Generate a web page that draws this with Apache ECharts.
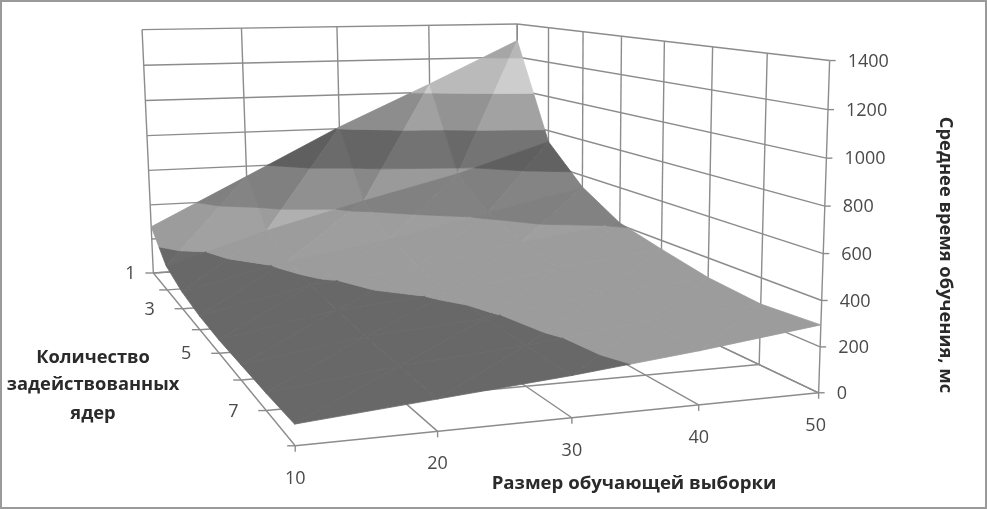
<!DOCTYPE html>
<html>
<head>
<meta charset="utf-8">
<title>Среднее время обучения</title>
<script src="https://cdn.jsdelivr.net/npm/echarts@6/dist/echarts.min.js"></script>
<style>
html,body{margin:0;padding:0;background:#fff}
#main{width:987px;height:510px}
</style>
</head>
<body>
<div id="main"></div>
<script>
// values
var sizes = [10, 20, 30, 40, 50];
var cores = [1, 2, 3, 4, 5, 6, 7, 8];
var time10 = [272, 135, 90, 70, 65, 70, 75, 85];
var time20 = [540, 300, 220, 185, 165, 150, 140, 130];
var time30 = [810, 440, 305, 245, 210, 190, 180, 175];
var time40 = [1050, 570, 420, 340, 295, 265, 245, 230];
var time50 = [1300, 735, 535, 410, 355, 305, 280, 295];
var timeTicks = [0, 200, 400, 600, 800, 1000, 1200, 1400];
var coreLabels = [1, 3, 5, 7];
var bandGreys = [104, 156, 128, 95, 133, 168, 150];
var times = [time10, time20, time30, time40, time50];

// Excel's 3D box: known axis points [sizeIdx, coreIdx, z/200, screenX, screenY], fitted to a camera
var camRefs = [
  [0,0,0,153.3,272],[0,7,0,295.7,446],[4,7,0,818.3,392.7],[0,0,7,142.3,29.3],[4,0,7,516.7,24],[4,7,7,830,60],
  [1,7,0,436.7,431.7],[2,7,0,571.7,418.3],[3,7,0,698.3,405],[0,3,0,201,330],[0,5,0,241.7,380],
  [1,0,7,241.7,28.3],[2,0,7,336.7,27],[3,0,7,429,25.3],[4,1,7,550,28.3],[4,3,7,620.7,36],[4,5,7,712.3,47.3],[4,6,7,766.7,53.3],
  [4,7,6,828.3,109.3],[4,7,5,826.6,157.3],[4,7,4,824.9,206],[4,7,3,823.2,253.3],[4,7,2,821.5,300.7],[4,7,1,819.9,347.3],
  [0,0,4,146.4,135.7],[0,0,2,149.4,205],[4,6,0,760,364.3]
];

function fitCamera(refs){
  var n = 11, A = [], i, j, k;
  for(i=0;i<n;i++){ A.push(new Array(n+1).fill(0)); }
  function add(row, rhs){
    for(var a=0;a<n;a++){
      for(var b=0;b<n;b++){ A[a][b] += row[a]*row[b]; }
      A[a][n] += row[a]*rhs;
    }
  }
  refs.forEach(function(r){
    add([r[0],r[1],r[2],1,0,0,0,0,-r[3]*r[0],-r[3]*r[1],-r[3]*r[2]], r[3]);
    add([0,0,0,0,r[0],r[1],r[2],1,-r[4]*r[0],-r[4]*r[1],-r[4]*r[2]], r[4]);
  });
  for(i=0;i<n;i++){
    var p = i;
    for(j=i+1;j<n;j++){ if(Math.abs(A[j][i])>Math.abs(A[p][i])) p = j; }
    var t = A[i]; A[i] = A[p]; A[p] = t;
    for(j=0;j<n;j++){
      if(j===i) continue;
      var f = A[j][i]/A[i][i];
      for(k=i;k<=n;k++){ A[j][k] -= f*A[i][k]; }
    }
  }
  var out = [];
  for(i=0;i<n;i++){ out.push(A[i][n]/A[i][i]); }
  return out;
}
var cam = fitCamera(camRefs);

// size index, core index, time in ms -> screen px
function project(u, v, z){
  var w = z/200;
  var d = cam[8]*u + cam[9]*v + cam[10]*w + 1;
  return [(cam[0]*u + cam[1]*v + cam[2]*w + cam[3])/d, (cam[4]*u + cam[5]*v + cam[6]*w + cam[7])/d];
}

// clip a triangle to one z band
function clip(poly, z0, keepAbove){
  var res = [];
  for(var i=0;i<poly.length;i++){
    var a = poly[i], b = poly[(i+1)%poly.length];
    var ina = keepAbove ? a[2]>=z0 : a[2]<=z0;
    var inb = keepAbove ? b[2]>=z0 : b[2]<=z0;
    if(ina) res.push(a);
    if(ina!==inb){
      var t = (z0-a[2])/(b[2]-a[2]);
      res.push([a[0]+(b[0]-a[0])*t, a[1]+(b[1]-a[1])*t, z0]);
    }
  }
  return res;
}

function shade(dzdu, dzdv){
  var nx = -dzdu/400, ny = -dzdv/400;
  var dot = Math.max(0, (nx*0.6 + ny*0.8)/Math.sqrt(nx*nx+ny*ny+1));
  return 1 + 0.9*dot*dot;
}

var pieces = [];
function addTriangle(tri, factor){
  for(var b=0;b<timeTicks.length-1;b++){
    var p = clip(clip(tri, timeTicks[b], true), timeTicks[b+1], false);
    if(p.length<3) continue;
    var g = Math.min(235, Math.round(bandGreys[b]*factor));
    pieces.push({pts:p, color:'rgb('+g+','+g+','+g+')'});
  }
}
for(var j=0;j<cores.length-1;j++){
  for(var i=0;i<sizes.length-1;i++){
    var z00 = times[i][j], z10 = times[i+1][j], z01 = times[i][j+1], z11 = times[i+1][j+1];
    addTriangle([[i,j,z00],[i+1,j,z10],[i,j+1,z01]], shade(z10-z00, z01-z00));
    addTriangle([[i+1,j,z10],[i+1,j+1,z11],[i,j+1,z01]], shade(z11-z01, z11-z10));
  }
}

// box lines, in data terms
var boxLines = [];
var lastU = sizes.length-1, lastV = cores.length-1, topZ = timeTicks[timeTicks.length-1];
timeTicks.forEach(function(z){
  boxLines.push([[0,0,z],[lastU,0,z]]);
  boxLines.push([[lastU,0,z],[lastU,lastV,z]]);
});
sizes.forEach(function(s,i){
  boxLines.push([[i,0,0],[i,0,topZ]]);
  boxLines.push([[i,0,0],[i,lastV,0]]);
});
cores.forEach(function(c,i){
  boxLines.push([[lastU,i,0],[lastU,i,topZ]]);
  boxLines.push([[0,i,0],[lastU,i,0]]);
});

var labelGrey = '#4a4a4a', titleGrey = '#2a2a2a', lineGrey = '#8c8c8c', font = '"Open Sans", sans-serif';
var titleFont = 'bold 18.3px '+font;

var myChart = echarts.init(document.getElementById('main'));

function polyItem(params, api){
  var pc = pieces[params.dataIndex];
  var pts = pc.pts.map(function(p){ return api.coord(project(p[0],p[1],p[2])); });
  return {type:'polygon', shape:{points:pts}, style:{fill:pc.color, stroke:pc.color, lineWidth:0.8}};
}
function lineItem(params, api){
  var l = boxLines[params.dataIndex];
  var a = api.coord(project(l[0][0],l[0][1],l[0][2])), b = api.coord(project(l[1][0],l[1][1],l[1][2]));
  return {type:'line', shape:{x1:a[0],y1:a[1],x2:b[0],y2:b[1]}, style:{stroke:lineGrey, lineWidth:1.4}};
}
function tickGroup(a, dx, dy, text, tx, ty, align){
  return {type:'group', children:[
    {type:'line', shape:{x1:a[0],y1:a[1],x2:a[0]+dx,y2:a[1]+dy}, style:{stroke:lineGrey, lineWidth:1.4}},
    text===null ? {type:'group'} : {type:'text', x:a[0]+tx, y:a[1]+ty, style:{text:String(text), fill:labelGrey, font:'18px '+font, align:align, verticalAlign:'middle'}}
  ]};
}

var option = {
  animation:false,
  grid:{left:0, right:0, top:0, bottom:0},
  xAxis:{type:'value', min:0, max:987, show:false},
  yAxis:{type:'value', min:0, max:510, inverse:true, show:false},
  graphic:[
    {type:'rect', shape:{x:1,y:1,width:985,height:507}, style:{fill:'none', stroke:'#9a9a9a', lineWidth:2}},
    {type:'text', x:93, y:358, style:{text:'Количество', fill:titleGrey, font:titleFont, align:'center', verticalAlign:'middle'}},
    {type:'text', x:93, y:385, style:{text:'задействованных', fill:titleGrey, font:titleFont, align:'center', verticalAlign:'middle'}},
    {type:'text', x:93, y:414, style:{text:'ядер', fill:titleGrey, font:titleFont, align:'center', verticalAlign:'middle'}},
    {type:'text', x:634, y:484, style:{text:'Размер обучающей выборки', fill:titleGrey, font:'bold 18.6px '+font, align:'center', verticalAlign:'middle'}},
    {type:'text', x:945, y:255, rotation:-Math.PI/2, style:{text:'Среднее время обучения, мс', fill:titleGrey, font:titleFont, align:'center', verticalAlign:'middle'}}
  ],
  series:[
    {type:'custom', silent:true, clip:false, coordinateSystem:'cartesian2d', encode:{x:0,y:1}, z:1,
      data:boxLines.map(function(l,i){ return [0,0,i]; }), renderItem:lineItem},
    {type:'custom', silent:true, clip:false, coordinateSystem:'cartesian2d', encode:{x:0,y:1}, z:2,
      data:pieces.map(function(p,i){ return [0,0,i]; }), renderItem:polyItem},
    {type:'custom', silent:true, clip:false, coordinateSystem:'cartesian2d', encode:{x:0,y:1}, z:1,
      data:sizes.map(function(s,i){ return [0,0,s]; }),
      renderItem:function(params, api){
        var i = params.dataIndex;
        return tickGroup(api.coord(project(i,lastV,0)), 0, 6, sizes[i], i===lastU?-3:0, 33, 'center');
      }},
    {type:'custom', silent:true, clip:false, coordinateSystem:'cartesian2d', encode:{x:0,y:1}, z:1,
      data:cores.map(function(c){ return [0,0,c]; }),
      renderItem:function(params, api){
        var i = params.dataIndex, c = cores[i];
        var shown = coreLabels.indexOf(c)>=0;
        return tickGroup(api.coord(project(0,i,0)), -8, 0, shown?c:null, i===0?-23:-33, 1, 'center');
      }},
    {type:'custom', silent:true, clip:false, coordinateSystem:'cartesian2d', encode:{x:0,y:1}, z:3,
      data:timeTicks.map(function(t){ return [0,0,t]; }),
      renderItem:function(params, api){
        var t = timeTicks[params.dataIndex];
        return tickGroup(api.coord(project(lastU,lastV,t)), 6, 0, t, 18, 1, 'left');
      }}
  ]
};
myChart.setOption(option);
</script>
</body>
</html>
